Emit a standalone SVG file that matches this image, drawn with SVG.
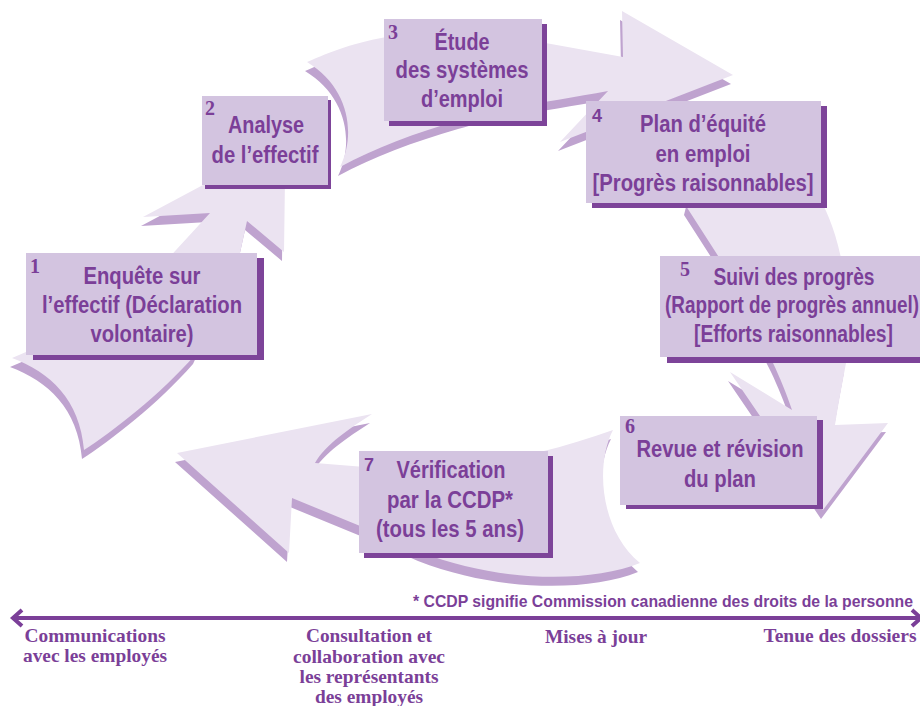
<svg xmlns="http://www.w3.org/2000/svg" width="920" height="706" viewBox="0 0 920 706">
<style>
.arr{fill:#ebe3f1}
.sh{fill:#bfa3cf}
.box{fill:#d3c4e0}
.bsh{fill:#7d4499}
.t{font-family:"Liberation Sans",Arial,sans-serif;font-weight:bold;font-size:23px;fill:#7b3f98;text-anchor:middle}
.e{text-anchor:end}
.n{font-family:"Liberation Serif","Times New Roman",serif;font-weight:bold;font-size:20px;fill:#7b3f98}
.ns{font-family:"Liberation Sans",Arial,sans-serif;font-weight:bold;font-size:18px;fill:#7b3f98}
.b{font-family:"Liberation Serif","Times New Roman",serif;font-weight:bold;font-size:19px;fill:#7b3f98;text-anchor:middle}
.f{font-family:"Liberation Sans",Arial,sans-serif;font-weight:bold;font-size:17px;fill:#7b3f98;text-anchor:end}
.ln{stroke:#7b3f98;stroke-width:4;fill:none}
</style>
<defs>
<path id="a1" d="M 12,358 L 40,346 L 165,262 L 210,213 L 143,217 L 203,185 L 215,178 L 250,150 L 285,178 L 284,252 L 247,221 L 238,262 L 195,355 C 160,395 112,432 84,450 C 80,400 50,372 12,358 Z"/>
<path id="a2" d="M 307,62 C 330,52 355,42 392,36 L 540,42 L 623,57 L 622,11 L 733,75 L 560,142 L 608,91 C 560,100 500,108 460,120 C 415,133 375,148 340,167 C 356,135 350,88 307,62 Z"/>
<path id="a3" d="M 690,190 L 815,190 C 828,212 838,235 845,280 L 846,363 C 842,385 838,405 835,425 L 888,423 L 823,510 L 760,416 L 730,372 L 792,410 C 786,392 780,378 773,363 L 722,262 L 686,206 Z"/>
<path id="a4" d="M 613,430 C 595,465 600,530 640,563 C 590,583 500,583 420,552 L 365,528 L 292,498 L 289,553 L 177,453 L 372,414 C 350,428 325,445 315,463 L 365,467 L 540,452 C 565,446 590,438 613,430 Z"/>
</defs>
<g id="connectors">
<use href="#a1" class="sh" transform="translate(-2,9)"/>
<use href="#a1" class="arr"/>
<use href="#a2" class="sh" transform="translate(-2,9)"/>
<use href="#a2" class="arr"/>
<use href="#a3" class="sh" transform="translate(-2,9)"/>
<use href="#a3" class="arr"/>
<use href="#a4" class="sh" transform="translate(-2,9)"/>
<use href="#a4" class="arr"/>
</g>
<g id="node1">
<rect class="bsh" x="33" y="258" width="231" height="102"/>
<rect class="box" x="26" y="253" width="231" height="102"/>
<text class="n" x="30" y="273">1</text>
<text class="t" x="142" y="284" textLength="117" lengthAdjust="spacingAndGlyphs">Enquête sur</text>
<text class="t" x="142" y="313" textLength="200" lengthAdjust="spacingAndGlyphs">l’effectif (Déclaration</text>
<text class="t" x="142" y="342" textLength="103" lengthAdjust="spacingAndGlyphs">volontaire)</text>
</g>
<g id="node2">
<rect class="bsh" x="205" y="100" width="126" height="89"/>
<rect class="box" x="202" y="96" width="126" height="89"/>
<text class="n" x="205" y="115">2</text>
<text class="t" x="266" y="133" textLength="76" lengthAdjust="spacingAndGlyphs">Analyse</text>
<text class="t" x="265" y="163" textLength="107" lengthAdjust="spacingAndGlyphs">de l’effectif</text>
</g>
<g id="node3">
<rect class="bsh" x="389" y="24" width="158" height="102"/>
<rect class="box" x="384" y="19" width="158" height="102"/>
<text class="n" x="388" y="39">3</text>
<text class="t" x="462" y="50" textLength="55" lengthAdjust="spacingAndGlyphs">Étude</text>
<text class="t" x="462" y="78" textLength="133" lengthAdjust="spacingAndGlyphs">des systèmes</text>
<text class="t" x="462" y="107" textLength="82" lengthAdjust="spacingAndGlyphs">d’emploi</text>
</g>
<g id="node4">
<rect class="bsh" x="592" y="106" width="235" height="102"/>
<rect class="box" x="586" y="101" width="235" height="102"/>
<text class="ns" x="592" y="122">4</text>
<text class="t" x="703" y="132" textLength="126" lengthAdjust="spacingAndGlyphs">Plan d’équité</text>
<text class="t" x="703" y="162" textLength="95" lengthAdjust="spacingAndGlyphs">en emploi</text>
<text class="t" x="703" y="191" textLength="221" lengthAdjust="spacingAndGlyphs">[Progrès raisonnables]</text>
</g>
<g id="node5">
<rect class="bsh" x="667" y="262" width="270" height="101"/>
<rect class="box" x="660" y="256" width="270" height="101"/>
<text class="n" x="680" y="276">5</text>
<text class="t" x="794" y="285" textLength="161" lengthAdjust="spacingAndGlyphs">Suivi des progrès</text>
<text class="t e" x="919" y="313" textLength="254" lengthAdjust="spacingAndGlyphs">(Rapport de progrès annuel)</text>
<text class="t e" x="893" y="342" textLength="199" lengthAdjust="spacingAndGlyphs">[Efforts raisonnables]</text>
</g>
<g id="node6">
<rect class="bsh" x="626" y="420" width="197" height="89"/>
<rect class="box" x="620" y="416" width="197" height="89"/>
<text class="n" x="625" y="433">6</text>
<text class="t" x="720" y="457" textLength="167" lengthAdjust="spacingAndGlyphs">Revue et révision</text>
<text class="t" x="720" y="487" textLength="72" lengthAdjust="spacingAndGlyphs">du plan</text>
</g>
<g id="node7">
<rect class="bsh" x="364" y="456" width="189" height="102"/>
<rect class="box" x="359" y="451" width="189" height="102"/>
<text class="ns" x="364" y="471">7</text>
<text class="t" x="451" y="478" textLength="109" lengthAdjust="spacingAndGlyphs">Vérification</text>
<text class="t" x="450" y="508" textLength="126" lengthAdjust="spacingAndGlyphs">par la CCDP*</text>
<text class="t" x="450" y="537" textLength="148" lengthAdjust="spacingAndGlyphs">(tous les 5 ans)</text>
</g>
<g id="footnote">
<text class="f" x="913" y="607" textLength="500" lengthAdjust="spacingAndGlyphs">* CCDP signifie Commission canadienne des droits de la personne</text>
</g>
<g id="timeline">
<line class="ln" x1="13" y1="618" x2="919" y2="618"/>
<polyline class="ln" points="22,610 13,618 22,626"/>
<polyline class="ln" points="912,610 921,618 912,626"/>
<text class="b" x="95" y="642" textLength="141" lengthAdjust="spacingAndGlyphs">Communications</text>
<text class="b" x="95" y="662" textLength="144" lengthAdjust="spacingAndGlyphs">avec les employés</text>
<text class="b" x="369" y="642" textLength="126" lengthAdjust="spacingAndGlyphs">Consultation et</text>
<text class="b" x="369" y="663" textLength="152" lengthAdjust="spacingAndGlyphs">collaboration avec</text>
<text class="b" x="369" y="683" textLength="139" lengthAdjust="spacingAndGlyphs">les représentants</text>
<text class="b" x="369" y="703" textLength="108" lengthAdjust="spacingAndGlyphs">des employés</text>
<text class="b" x="596" y="643" textLength="102" lengthAdjust="spacingAndGlyphs">Mises à jour</text>
<text class="b" x="840" y="642" textLength="153" lengthAdjust="spacingAndGlyphs">Tenue des dossiers</text>
</g>
</svg>
